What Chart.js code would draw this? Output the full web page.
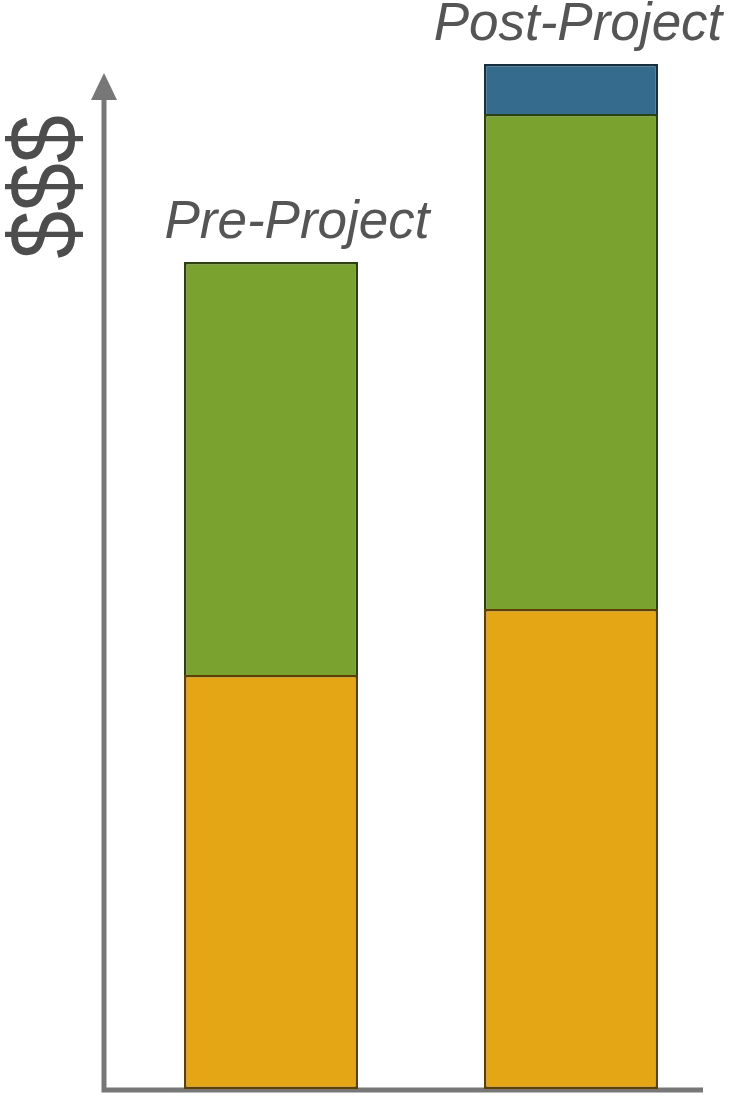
<!DOCTYPE html>
<html>
<head>
<meta charset="utf-8">
<script src="https://cdn.jsdelivr.net/npm/chart.js@4"></script>
<style>
  html, body { margin: 0; padding: 0; background: #ffffff; }
  #wrap { width: 730px; height: 1096px; }
</style>
</head>
<body>
<div id="wrap"><canvas id="chart"></canvas></div>
<script>
// chart values (arbitrary cost units)
const categories = ["Pre-Project", "Post-Project"];
const base_costs = [41.4, 48.0];
const middle_costs = [41.3, 49.5];
const top_costs = [0, 5.0];
const axis_title = "$$$";

const total_max = Math.max(...categories.map((_c, i) => base_costs[i] + middle_costs[i] + top_costs[i]));

// axes with an arrow on the value axis, drawn from the chart area
const arrow_axes = {
  id: "arrow_axes",
  beforeDatasetsDraw(chart) {
    const { ctx, chartArea } = chart;
    const ax = chartArea.left - 17;
    const ay = chartArea.bottom + 1;
    const tip = chartArea.top + 9;
    ctx.save();
    ctx.strokeStyle = "#777777";
    ctx.fillStyle = "#777777";
    ctx.lineWidth = 5;
    ctx.beginPath();
    ctx.moveTo(ax, ay + 2.5);
    ctx.lineTo(ax, tip + 24);
    ctx.moveTo(ax - 2.5, ay);
    ctx.lineTo(chartArea.right - 18, ay);
    ctx.stroke();
    ctx.beginPath();
    ctx.moveTo(ax, tip);
    ctx.lineTo(ax - 13, tip + 27);
    ctx.lineTo(ax + 13, tip + 27);
    ctx.closePath();
    ctx.fill();
    ctx.restore();
  },
};

// category names above each stack, plus the rotated "$$$" title
const stack_labels = {
  id: "stack_labels",
  afterDatasetsDraw(chart) {
    const { ctx, chartArea } = chart;
    const last = chart.getDatasetMeta(chart.data.datasets.length - 1);
    const shift = [26, 7];
    ctx.save();
    ctx.fillStyle = "#555555";
    ctx.font = "italic 53px 'Liberation Sans', Arial, sans-serif";
    ctx.textAlign = "center";
    ctx.textBaseline = "alphabetic";
    categories.forEach((name, i) => {
      let top = chartArea.bottom;
      chart.data.datasets.forEach((_d, di) => {
        const el = chart.getDatasetMeta(di).data[i];
        if (el.y < top) top = el.y;
      });
      ctx.fillText(name, last.data[i].x + shift[i], top - 24);
    });

    ctx.fillStyle = "#4d4d4d";
    ctx.font = "86px 'Liberation Sans', Arial, sans-serif";
    ctx.translate(76, chartArea.top + 123);
    ctx.rotate(-Math.PI / 2);
    ctx.scale(1, 1.12);
    ctx.fillText(axis_title, 0, 0);
    ctx.restore();
  },
};

new Chart("chart", {
  type: "bar",
  data: {
    labels: categories,
    datasets: [
      {
        data: base_costs,
        backgroundColor: "#e5a615",
        borderColor: "#5e4004",
        borderWidth: 2.5,
        borderSkipped: false,
      },
      {
        data: middle_costs,
        backgroundColor: "#7aa22f",
        borderColor: "#2a430c",
        borderWidth: 2.5,
      },
      {
        data: top_costs,
        backgroundColor: "#356b8c",
        borderColor: "#17303f",
        borderWidth: 2.5,
      },
    ],
  },
  options: {
    responsive: true,
    maintainAspectRatio: false,
    animation: false,
    layout: {
      padding: { left: 121, right: 9, top: 64, bottom: 7 },
    },
    datasets: {
      bar: {
        barPercentage: 1,
        categoryPercentage: 0.58,
      },
    },
    plugins: {
      legend: { display: false },
      tooltip: { enabled: false },
    },
    scales: {
      x: {
        stacked: true,
        display: false,
      },
      y: {
        stacked: true,
        display: false,
        min: 0,
        max: total_max,
      },
    },
  },
  plugins: [arrow_axes, stack_labels],
});
</script>
</body>
</html>
